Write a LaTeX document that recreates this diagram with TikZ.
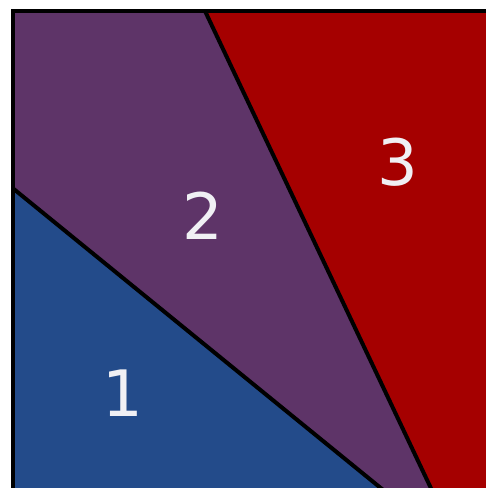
\documentclass[tikz,border=0pt]{standalone}
\usepackage{fontspec}
\setmainfont{DejaVu Sans}
\definecolor{cblue}{RGB}{35,75,138}
\definecolor{cpurple}{RGB}{94,52,104}
\definecolor{cred}{RGB}{165,0,0}
\definecolor{ctext}{RGB}{240,240,244}
\tikzset{
  edge/.style={line width=4pt, black},
  lab/.style={text=ctext, font=\fontsize{64}{64}\selectfont, inner sep=0pt}
}
\begin{document}
\begin{tikzpicture}[x=1pt,y=-1pt]
\useasboundingbox (0,0) rectangle (486,488);
\clip (0,0) rectangle (486,488);
\coordinate (TL) at (12.5,11);
\coordinate (L1) at (12.5,188);
\coordinate (B1) at (420,520);
\coordinate (T2) at (205,11);
\coordinate (B2) at (446,520);
\fill[cblue] (L1) -- (B1) -- (12.5,520) -- cycle;
\fill[cpurple] (TL) -- (T2) -- (B2) -- (B1) -- (L1) -- cycle;
\fill[cred] (T2) -- (600,11) -- (600,520) -- (B2) -- cycle;
\draw[edge] (L1) -- (B1);
\draw[edge] (T2) -- (B2);
\draw[edge] (12.5,520) -- (TL) -- (600,11);
\node[lab] (n1) at (123,393) {1};
\node[lab] (n2) at (203,216) {2};
\node[lab] (n3) at (398,162) {3};
\end{tikzpicture}
\end{document}
